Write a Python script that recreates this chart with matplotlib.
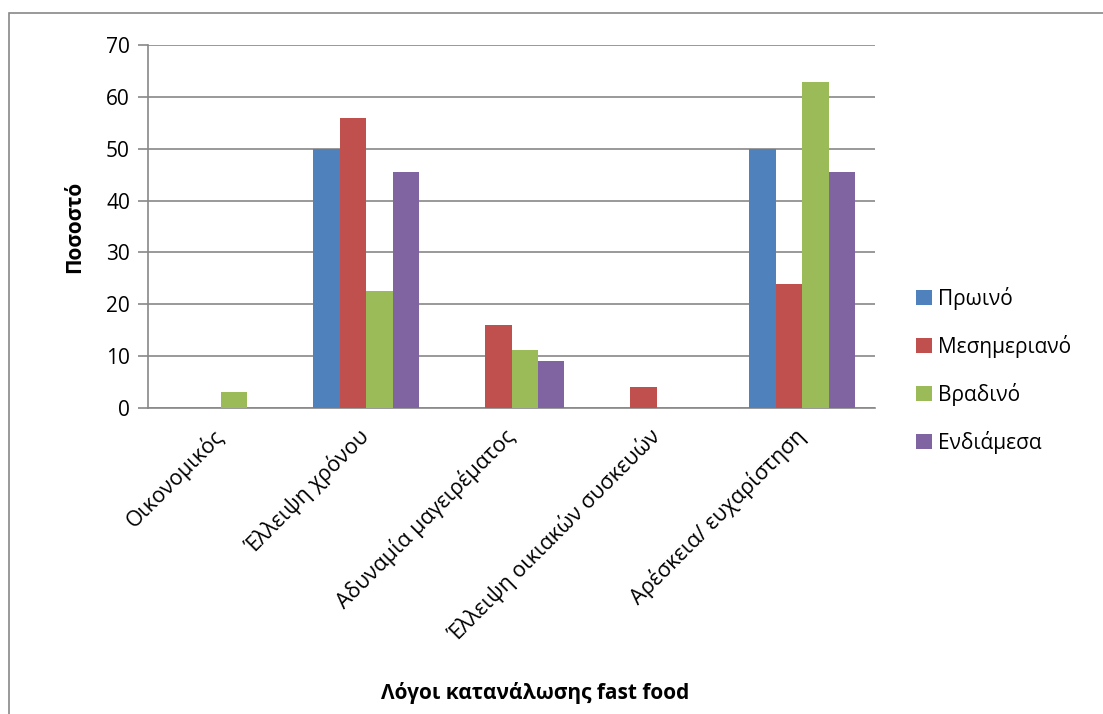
import matplotlib.pyplot as plt
import numpy as np
from matplotlib.patches import Rectangle

plt.rcParams['font.family'] = ['Open Sans', 'DejaVu Sans']

# Reasons for fast food consumption, percent per meal
categories = ['Οικονομικός', 'Έλλειψη χρόνου', 'Αδυναμία μαγειρέματος',
              'Έλλειψη οικιακών συσκευών', 'Αρέσκεια/ ευχαρίστηση']
series = ['Πρωινό', 'Μεσημεριανό', 'Βραδινό', 'Ενδιάμεσα']
proino = [0, 50, 0, 0, 50]
mesimeriano = [0, 56, 16, 4, 24]
vradino = [3.1, 22.5, 11.2, 0, 62.8]
endiamesa = [0, 45.5, 9, 0, 45.5]

colors = ['#4F81BD', '#C0504D', '#9BBB59', '#8064A2']
values = [proino, mesimeriano, vradino, endiamesa]

W, H = 1103, 714
fig = plt.figure(figsize=(W/100, H/100), dpi=100)
ax = fig.add_axes([148/W, 1 - 408/H, (875 - 148)/W, (408 - 45)/H])

x = np.arange(len(categories))
bw = 0.182
for i, (vals, name) in enumerate(zip(values, series)):
    ax.bar(x + (i - 1.5)*bw, vals, bw, color=colors[i], label=name, zorder=3)

ax.set_xlim(-0.5, len(categories) - 0.5)
ax.set_ylim(0, 70)
ax.set_yticks(range(0, 71, 10))
ax.yaxis.grid(True, color='#888888', linewidth=1.2, zorder=0)
for s in ['top', 'right']:
    ax.spines[s].set_visible(False)
for s in ['left', 'bottom']:
    ax.spines[s].set_color('#888888')
    ax.spines[s].set_linewidth(1.2)
ax.tick_params(axis='y', length=7, color='#888888', width=1.2, labelsize=15, pad=6)
ax.tick_params(axis='x', length=0, labelsize=15.5, pad=18)
ax.set_xticks(x)
ax.set_xticklabels(categories, rotation=45, ha='right', va='center',
                   rotation_mode='anchor')

fig.text(75/W, 1 - 227/H, 'Ποσοστό', rotation=90, fontsize=15,
         fontweight='bold', ha='center', va='center')
fig.text(535/W, 1 - 693/H, 'Λόγοι κατανάλωσης fast food', fontsize=15,
         fontweight='bold', ha='center', va='center')

fig.legend(loc='upper left', bbox_to_anchor=(897/W, 1 - 268/H), frameon=False,
           fontsize=15, handlelength=0.77, handleheight=0.77, handletextpad=0.3,
           labelspacing=1.2)

# chart area border
fig.patches.append(Rectangle((9/W, -0.1), 1.2, 1.1 - 13/H, transform=fig.transFigure,
                             fill=False, edgecolor='#888888', linewidth=1.2))

fig.savefig('out.png', dpi=100)
